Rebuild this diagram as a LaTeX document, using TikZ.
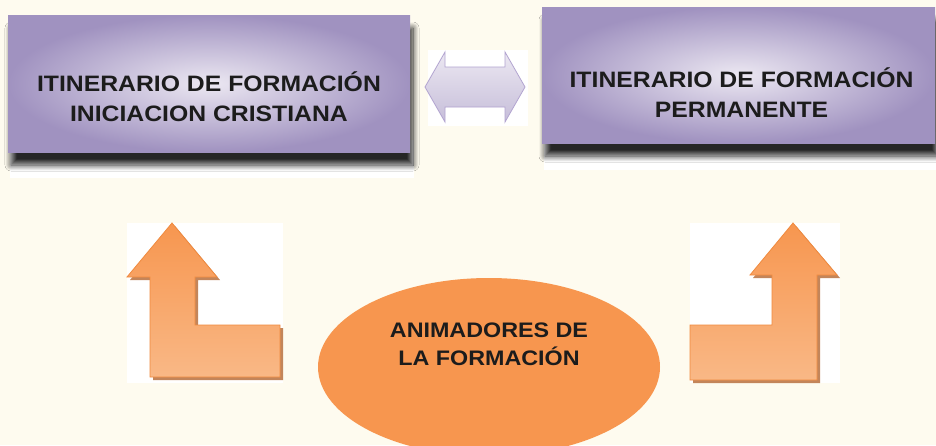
\documentclass[tikz,border=0pt]{standalone}
\usepackage{fontspec}
\setmainfont{Liberation Sans}
\newfontfamily\rotulofont[FakeStretch=1.11]{Liberation Sans}
\usetikzlibrary{shapes.geometric, shadows, shadows.blur, positioning}
\definecolor{fondo}{RGB}{254,251,239}
\definecolor{lila}{RGB}{160,146,192}
\definecolor{lilaclaro}{RGB}{236,232,242}
\definecolor{lilaborde}{RGB}{178,164,208}
\definecolor{naranja}{RGB}{247,150,79}
\definecolor{naranjaclaro}{RGB}{249,184,134}
\definecolor{naranjaborde}{RGB}{240,138,62}
\definecolor{naranjasombra}{RGB}{185,112,62}
\definecolor{texto}{RGB}{28,28,28}
\tikzstyle{caja} = [rectangle, inner color=lilaclaro, outer color=lila, inner sep=0pt, blur shadow={shadow xshift=3pt, shadow yshift=-13pt, shadow blur radius=6pt, shadow blur steps=12, shadow opacity=85}]
\tikzstyle{rotulo} = [align=center, text=texto, font=\rotulofont\fontsize{22.3}{30}\selectfont\bfseries]
\tikzstyle{fondoblanco} = [fill=white, draw=none]
\tikzstyle{flecha} = [draw=naranjaborde, line width=0.8pt, top color=naranja, bottom color=naranjaclaro, drop shadow={shadow xshift=3pt, shadow yshift=-3pt, fill=naranjasombra, opacity=0.85}]
\tikzstyle{doble} = [draw=lilaborde, line width=0.8pt, top color=lilaclaro, bottom color=lila!60]
\tikzstyle{animador} = [ellipse, fill=naranja, minimum width=342pt, minimum height=178pt, inner sep=0pt]

\begin{document}
\begin{tikzpicture}[x=1pt, y=-1pt]
    \useasboundingbox (0,0) rectangle (936,445);
    \fill[fondo] (0,0) rectangle (936,445);

    \fill[fondoblanco] (10,140) rectangle (414,178);
    \fill[fondoblanco] (544,132) rectangle (936,170);
    \fill[fondoblanco] (428,50) rectangle (528,126);
    \fill[fondoblanco] (127,223) rectangle (283,383);
    \fill[fondoblanco] (690,223) rectangle (840,383);

    \node (iniciacion) [caja, minimum width=402pt, minimum height=137pt] at (209,83.5) {};
    \node (iniciaciontxt) [rotulo] at ([yshift=-13pt]iniciacion.center) {ITINERARIO DE FORMACIÓN\\INICIACION CRISTIANA};
    \node (permanente) [caja, minimum width=393pt, minimum height=136pt] at (738.5,75) {};
    \node (permanentetxt) [rotulo] at ([xshift=3pt, yshift=-18pt]permanente.center) {ITINERARIO DE FORMACIÓN\\PERMANENTE};

    \draw [doble] (425,87) -- (445,52) -- (445,67) -- (505,67) -- (505,52) -- (525,87)
        -- (505,122) -- (505,107) -- (445,107) -- (445,122) -- cycle;

    \draw [flecha] (172,223) -- (217,277) -- (195,277) -- (195,325) -- (280,325) -- (280,377)
        -- (150,377) -- (150,277) -- (127,277) -- cycle;
    \draw [flecha] (793,223) -- (837,275) -- (817,275) -- (817,380) -- (690,380) -- (690,325)
        -- (772,325) -- (772,275) -- (750,275) -- cycle;

    \node (animadores) [animador] at (489,367) {};
    \node (animadorestxt) [rotulo, font=\rotulofont\fontsize{21}{28}\selectfont\bfseries] at ([yshift=23pt]animadores.center) {ANIMADORES DE\\LA FORMACIÓN};
\end{tikzpicture}
\end{document}
